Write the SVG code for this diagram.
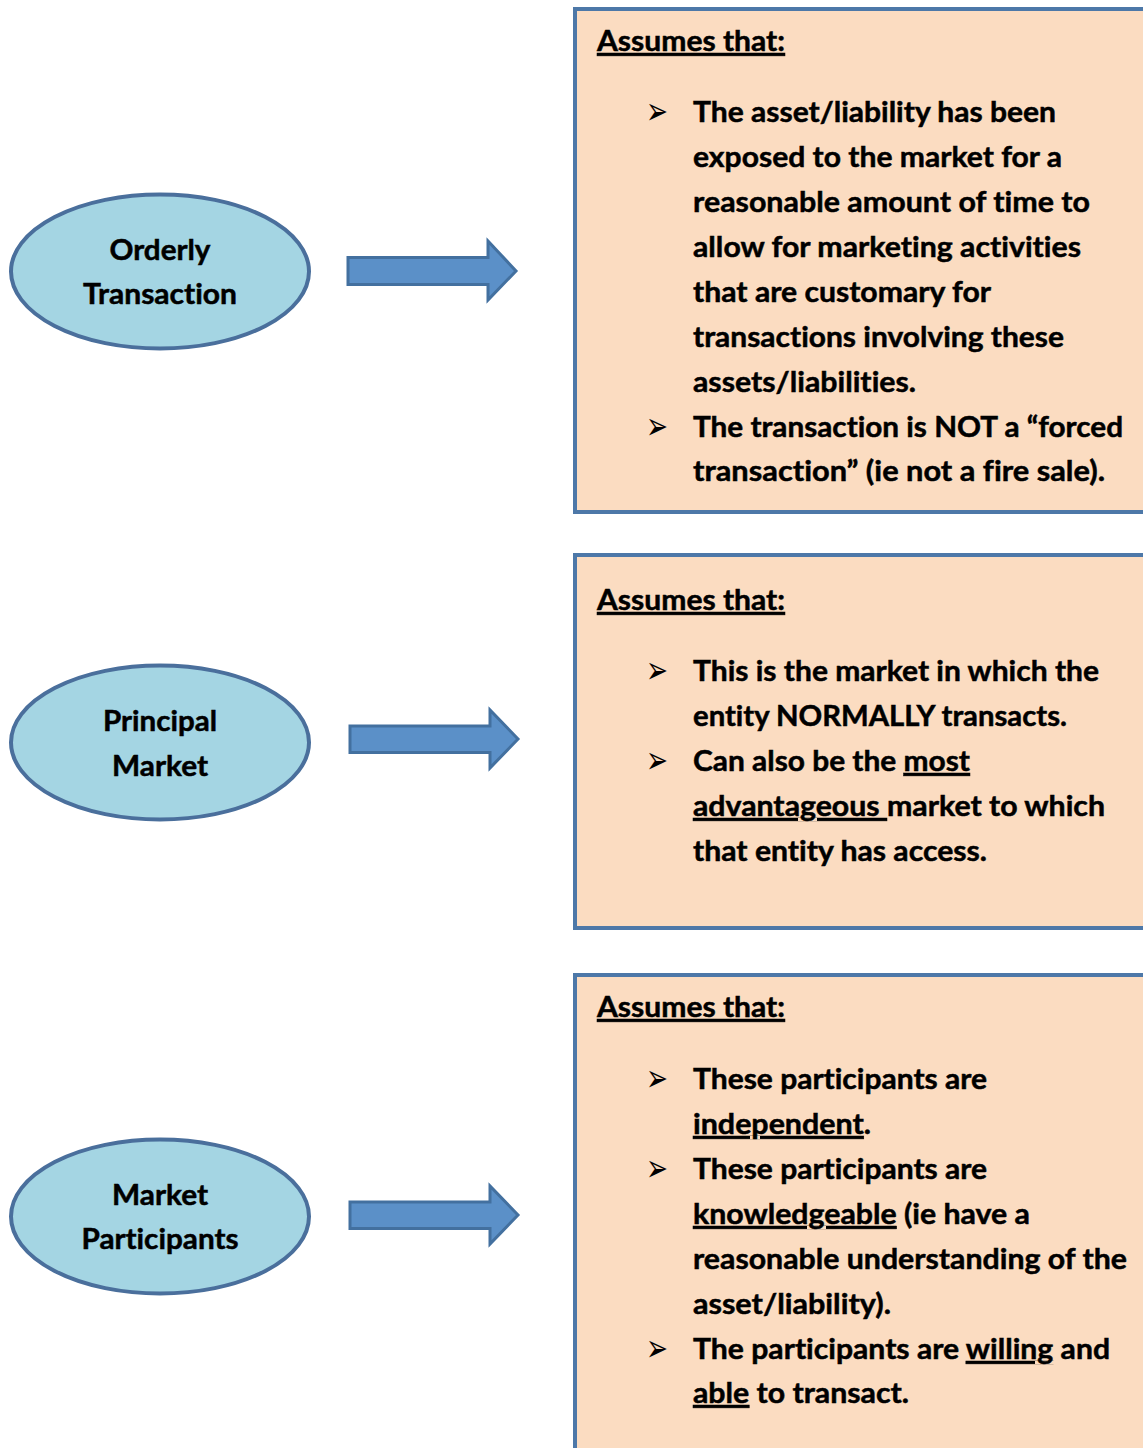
<svg xmlns="http://www.w3.org/2000/svg" width="1143" height="1448" viewBox="0 0 1143 1448">
<style>
.node ellipse{fill:#a4d5e3;stroke:#4a6f9c;stroke-width:4}
.box{fill:#fbdcc1;stroke:#4d78a8;stroke-width:4}
.arr{fill:#5b90c8;stroke:#43709f;stroke-width:3;stroke-linejoin:miter}
text{font-family:Lato,"Open Sans","Liberation Sans",sans-serif;font-weight:bold;font-size:29px;fill:#000;stroke:#000;stroke-width:0.5;font-variant-ligatures:none}
.c{text-anchor:middle}
.b{font-family:"DejaVu Sans",sans-serif;font-weight:normal;font-size:38px;stroke:none}
.u{text-decoration:underline}
</style>
<rect width="1143" height="1448" fill="#fff"/>
<g id="connectors">
<path class="arr" d="M348,257.5 H488 V241 L516,271 L488,300 V284.5 H348 Z"/>
<path class="arr" d="M350,726 H490 V710 L518,739 L490,768 V752.5 H350 Z"/>
<path class="arr" d="M350,1202 H490 V1186 L518,1215 L490,1244 V1228.5 H350 Z"/>
</g>
<g id="node-orderly" class="node">
<ellipse cx="160" cy="271.5" rx="149" ry="77"/>
<text class="c" x="160" y="260" textLength="101" lengthAdjust="spacingAndGlyphs">Orderly</text>
<text class="c" x="160" y="304" textLength="154" lengthAdjust="spacingAndGlyphs">Transaction</text>
</g>
<g id="node-principal" class="node">
<ellipse cx="160" cy="742.5" rx="149" ry="77"/>
<text class="c" x="160" y="731" textLength="114" lengthAdjust="spacingAndGlyphs">Principal</text>
<text class="c" x="160" y="776" textLength="96" lengthAdjust="spacingAndGlyphs">Market</text>
</g>
<g id="node-participants" class="node">
<ellipse cx="160" cy="1216.5" rx="149" ry="77"/>
<text class="c" x="160" y="1205" textLength="96" lengthAdjust="spacingAndGlyphs">Market</text>
<text class="c" x="160" y="1249" textLength="157" lengthAdjust="spacingAndGlyphs">Participants</text>
</g>
<g id="box-orderly">
<rect class="box" x="575" y="9" width="580" height="503"/>
<text class="u" x="597" y="51" textLength="188" lengthAdjust="spacingAndGlyphs">Assumes that:</text>
<text class="b" x="646" y="124" textLength="22" lengthAdjust="spacingAndGlyphs">➢</text>
<text x="693" y="122" textLength="363" lengthAdjust="spacingAndGlyphs">The asset/liability has been</text>
<text x="693" y="167" textLength="369" lengthAdjust="spacingAndGlyphs">exposed to the market for a</text>
<text x="693" y="212" textLength="397" lengthAdjust="spacingAndGlyphs">reasonable amount of time to</text>
<text x="693" y="257" textLength="388" lengthAdjust="spacingAndGlyphs">allow for marketing activities</text>
<text x="693" y="302" textLength="298" lengthAdjust="spacingAndGlyphs">that are customary for</text>
<text x="693" y="347" textLength="371" lengthAdjust="spacingAndGlyphs">transactions involving these</text>
<text x="693" y="392" textLength="223" lengthAdjust="spacingAndGlyphs">assets/liabilities.</text>
<text class="b" x="646" y="439" textLength="22" lengthAdjust="spacingAndGlyphs">➢</text>
<text x="693" y="437" textLength="430" lengthAdjust="spacingAndGlyphs">The transaction is NOT a “forced</text>
<text x="693" y="481" textLength="412" lengthAdjust="spacingAndGlyphs">transaction” (ie not a fire sale).</text>
</g>
<g id="box-principal">
<rect class="box" x="575" y="555" width="580" height="373"/>
<text class="u" x="597" y="610" textLength="188" lengthAdjust="spacingAndGlyphs">Assumes that:</text>
<text class="b" x="646" y="683" textLength="22" lengthAdjust="spacingAndGlyphs">➢</text>
<text x="693" y="681" textLength="406" lengthAdjust="spacingAndGlyphs">This is the market in which the</text>
<text x="693" y="726" textLength="374" lengthAdjust="spacingAndGlyphs">entity NORMALLY transacts.</text>
<text class="b" x="646" y="773" textLength="22" lengthAdjust="spacingAndGlyphs">➢</text>
<text x="693" y="771" textLength="277" lengthAdjust="spacingAndGlyphs">Can also be the <tspan class="u">most</tspan></text>
<text x="693" y="816" textLength="412" lengthAdjust="spacingAndGlyphs"><tspan class="u">advantageous </tspan>market to which</text>
<text x="693" y="861" textLength="294" lengthAdjust="spacingAndGlyphs">that entity has access.</text>
</g>
<g id="box-participants">
<rect class="box" x="575" y="975" width="580" height="490"/>
<text class="u" x="597" y="1017" textLength="188" lengthAdjust="spacingAndGlyphs">Assumes that:</text>
<text class="b" x="646" y="1091" textLength="22" lengthAdjust="spacingAndGlyphs">➢</text>
<text x="693" y="1089" textLength="294" lengthAdjust="spacingAndGlyphs">These participants are</text>
<text x="693" y="1134" textLength="178" lengthAdjust="spacingAndGlyphs"><tspan class="u">independent</tspan>.</text>
<text class="b" x="646" y="1181" textLength="22" lengthAdjust="spacingAndGlyphs">➢</text>
<text x="693" y="1179" textLength="294" lengthAdjust="spacingAndGlyphs">These participants are</text>
<text x="693" y="1224" textLength="337" lengthAdjust="spacingAndGlyphs"><tspan class="u">knowledgeable</tspan> (ie have a</text>
<text x="693" y="1269" textLength="434" lengthAdjust="spacingAndGlyphs">reasonable understanding of the</text>
<text x="693" y="1314" textLength="198" lengthAdjust="spacingAndGlyphs">asset/liability).</text>
<text class="b" x="646" y="1361" textLength="22" lengthAdjust="spacingAndGlyphs">➢</text>
<text x="693" y="1359" textLength="417" lengthAdjust="spacingAndGlyphs">The participants are <tspan class="u">willing</tspan> and</text>
<text x="693" y="1403" textLength="216" lengthAdjust="spacingAndGlyphs"><tspan class="u">able</tspan> to transact.</text>
</g>
</svg>
